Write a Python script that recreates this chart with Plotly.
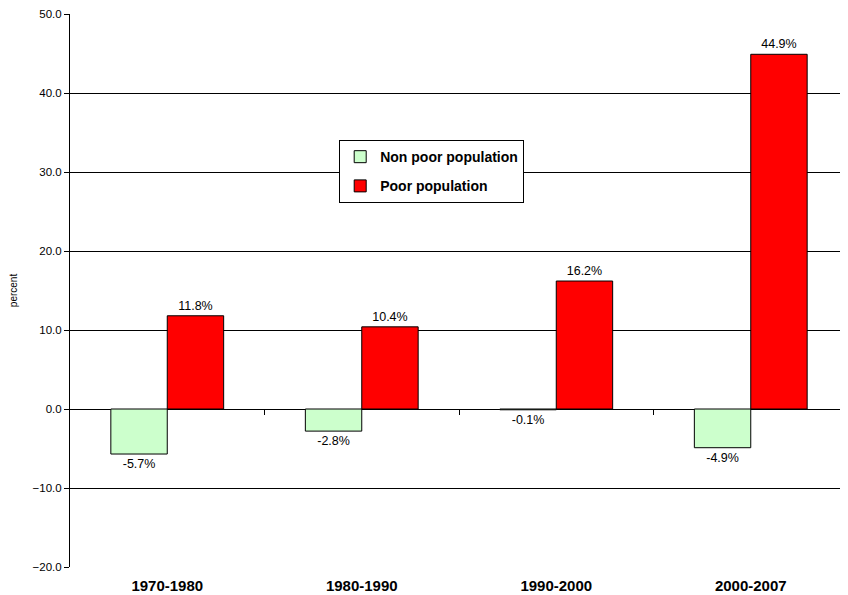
import plotly.graph_objects as go

periods = ["1970-1980", "1980-1990", "1990-2000", "2000-2007"]
non_poor = [-5.7, -2.8, -0.1, -4.9]
poor = [11.8, 10.4, 16.2, 44.9]
y_ticks = [-20, -10, 0, 10, 20, 30, 40, 50]

FONT = "Arial, Liberation Sans, sans-serif"

fig = go.Figure()
fig.add_trace(go.Bar(
    x=periods, y=non_poor, name="Non poor population",
    marker=dict(color="#CCFFCC", line=dict(color="black", width=1)),
    texttemplate="%{y:.1f}%", textposition="outside",
    textfont=dict(family=FONT, size=12.5, color="black"),
    cliponaxis=False, legendgroup="a",
))
fig.add_trace(go.Bar(
    x=periods, y=poor, name="Poor population",
    marker=dict(color="#FF0000", line=dict(color="black", width=1)),
    texttemplate="%{y:.1f}%", textposition="outside",
    textfont=dict(family=FONT, size=12.5, color="black"),
    cliponaxis=False, legendgroup="b",
))
# helper trace for the category-boundary ticks on the zero line
fig.add_trace(go.Scatter(x=[], y=[], xaxis="x2", showlegend=False, hoverinfo="skip"))

fig.update_layout(
    width=840, height=587,
    margin=dict(l=62, r=0, t=6, b=28),
    paper_bgcolor="white", plot_bgcolor="white",
    font=dict(family=FONT, size=11, color="black"),
    barmode="group", bargap=0.42, bargroupgap=0,
    showlegend=True,
    legend=dict(
        x=0.346, y=0.772, xanchor="left", yanchor="top",
        bgcolor="white", bordercolor="black", borderwidth=1,
        font=dict(family=FONT, size=14, color="black", weight="bold"),
        traceorder="grouped", tracegroupgap=8, itemwidth=30,
    ),
    xaxis=dict(
        type="category", range=[-0.5, 3.5],
        showgrid=False, showline=False, zeroline=False,
        ticks="outside", ticklen=5, tickcolor="rgba(0,0,0,0)",
        tickfont=dict(family=FONT, size=15, color="black", weight="bold"),
    ),
    xaxis2=dict(
        type="category", overlaying="x", matches="x", anchor="free",
        position=20 / 70, showline=False, showgrid=False, zeroline=False,
        showticklabels=False, ticks="outside", ticklen=5, tickcolor="black",
        tickmode="array", tickvals=[0.5, 1.5, 2.5],
    ),
    yaxis=dict(
        range=[-20, 50], tickmode="array", tickvals=y_ticks,
        tickformat=".1f", ticks="outside", ticklen=5, tickcolor="black",
        showgrid=True, gridcolor="black", gridwidth=1,
        zeroline=True, zerolinecolor="black", zerolinewidth=1,
        showline=True, linecolor="black", linewidth=1,
        automargin=False,
        tickfont=dict(family=FONT, size=11.5, color="black"),
        title=dict(text="percent", font=dict(family=FONT, size=10, color="black"), standoff=20),
    ),
)

fig.write_html("out.html")
